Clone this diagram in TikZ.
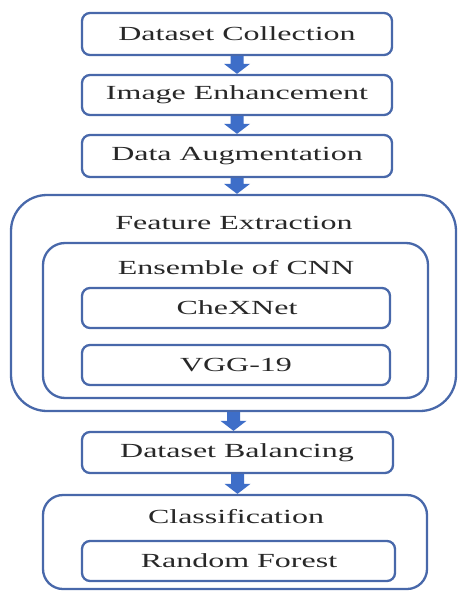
\documentclass[tikz,border=0pt]{standalone}
\usepackage{fontspec}
\setmainfont{Liberation Serif}[FakeStretch=1.6]
\usetikzlibrary{calc}
\definecolor{bordc}{RGB}{72,104,170}
\definecolor{arrc}{RGB}{62,110,200}
\definecolor{txtc}{RGB}{40,40,40}
\tikzset{
  box/.style={draw=bordc, line width=2.3pt, rounded corners=8pt, inner sep=0pt},
  lbl/.style={text=txtc, font=\fontsize{20}{22}\selectfont, inner sep=0pt},
  arrfill/.style={fill=arrc, draw=none}
}
\newcommand\blockarr[2]{%
  \fill[arrfill] let \p1=(#1.south), \p2=(#2.north) in
    (\x1-6.5pt,\y1) -- (\x1+6.5pt,\y1) -- (\x1+6.5pt,\y2+10pt) -- (\x1+13pt,\y2+10pt)
    -- (\x1,\y2) -- (\x1-13pt,\y2+10pt) -- (\x1-6.5pt,\y2+10pt) -- cycle;}
\begin{document}
\begin{tikzpicture}[x=1pt,y=-1pt]
\useasboundingbox[fill=white] (0,0) rectangle (460,591);
% top boxes
\node[box, minimum width=310pt, minimum height=42pt] (b1) at (237,34) {};
\node[lbl] at (237,34) {Dataset Collection};
\node[box, minimum width=310pt, minimum height=40pt] (b2) at (237,95) {};
\node[lbl] at (237,95) {Image Enhancement};
\node[box, minimum width=310pt, minimum height=42pt] (b3) at (237,156) {};
\node[lbl] at (237,156) {Data Augmentation};
% feature extraction
\node[box, rounded corners=36pt, minimum width=445pt, minimum height=216pt] (fe) at (233.5,303) {};
\node[lbl] (fet) at (234,223) {Feature Extraction};
\node[box, rounded corners=22pt, minimum width=385pt, minimum height=155pt] (ens) at (235.5,320.5) {};
\node[lbl] (enst) at (236,268) {Ensemble of CNN};
\node[box, minimum width=308pt, minimum height=40pt] (chex) at (236,308) {};
\node[lbl] at (237,308) {CheXNet};
\node[box, minimum width=308pt, minimum height=40pt] (vgg) at (236,365) {};
\node[lbl] at (236,365) {VGG-19};
% balancing
\node[box, minimum width=311pt, minimum height=41pt] (bal) at (237.5,452.5) {};
\node[lbl] at (237,452.5) {Dataset Balancing};
% classification
\node[box, rounded corners=20pt, minimum width=384pt, minimum height=94pt] (cls) at (235,542) {};
\node[lbl] (clst) at (236,517) {Classification};
\node[box, minimum width=313pt, minimum height=40pt] (rf) at (238.5,561) {};
\node[lbl] at (239,561) {Random Forest};
% arrows
\blockarr{b1}{b2}
\blockarr{b2}{b3}
\blockarr{b3}{fe}
\blockarr{fe}{bal}
\blockarr{bal}{cls}
\end{tikzpicture}
\end{document}
